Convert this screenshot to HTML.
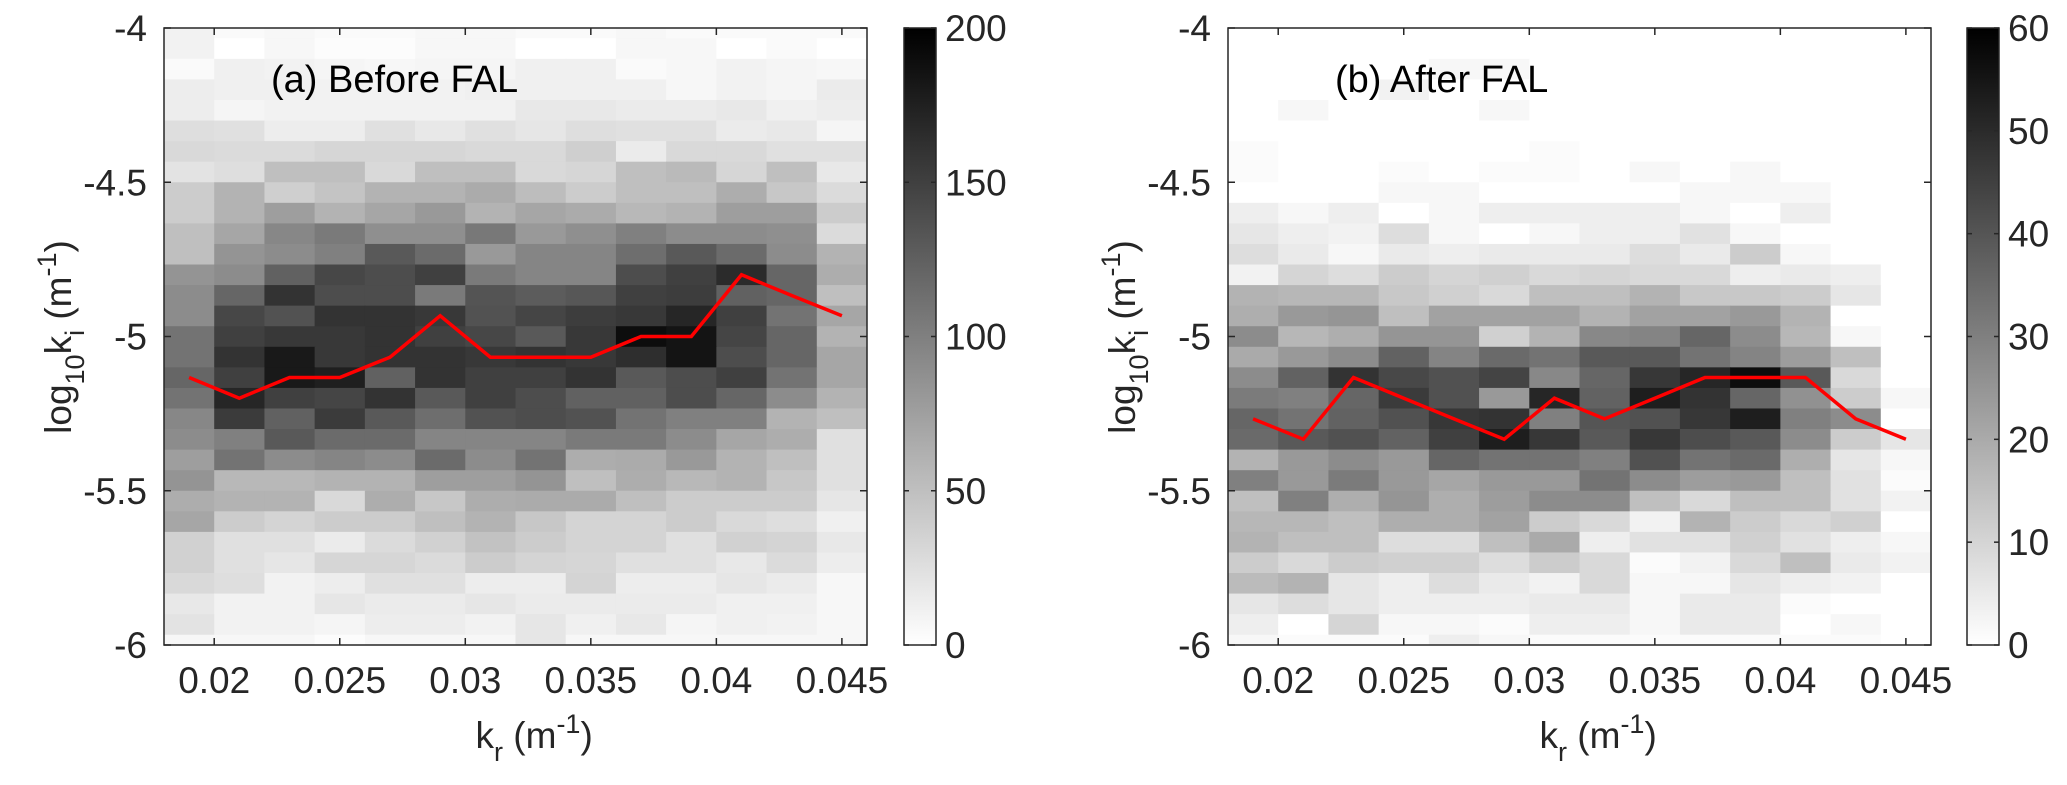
<!DOCTYPE html>
<html><head><meta charset="utf-8"><style>
html,body{margin:0;padding:0;background:#fff}
svg{display:block;font-family:"Liberation Sans",Arial,sans-serif}
</style></head><body>
<svg id="fig" width="2067" height="785" viewBox="0 0 2067 785"></svg>
<script>
// ---------- data ----------
const kr = [0.019,0.021,0.023,0.025,0.027,0.029,0.031,0.033,0.035,0.037,0.039,0.041,0.043,0.045];
const yBins = 31; // rows centred at -4, -4.0667, ... -6
const xTicks = [0.02,0.025,0.03,0.035,0.04,0.045];
const xTickLabels = ["0.02","0.025","0.03","0.035","0.04","0.045"];
const yTicks = [-4,-4.5,-5,-5.5,-6];
const yTickLabels = ["-4","-4.5","-5","-5.5","-6"];
const cbTicksA = [0,50,100,150,200];
const cbTicksB = [0,10,20,30,40,50,60];
const lineA = [-5.133,-5.2,-5.133,-5.133,-5.067,-4.933,-5.067,-5.067,-5.067,-5.0,-5.0,-4.8,-4.867,-4.933];
const lineB = [-5.267,-5.333,-5.133,-5.2,-5.267,-5.333,-5.2,-5.267,-5.2,-5.133,-5.133,-5.133,-5.267,-5.333];
// darkness-based counts, panel (a) (max 200): rows top(-4) to bottom(-6)
const countsA = [
[10,4,6,4,4,6,6,4,4,6,4,4,4,4],
[10,0,6,2,2,6,6,0,0,6,6,0,4,0],
[4,12,10,8,6,8,8,12,12,4,6,10,8,6],
[14,12,12,10,10,10,12,12,12,12,6,10,8,16],
[14,8,10,10,10,10,10,18,18,16,16,18,12,14],
[26,24,14,14,24,18,24,20,26,24,24,16,18,8],
[30,28,28,32,32,32,30,30,38,16,30,30,24,24],
[22,26,50,50,30,50,50,30,32,50,54,32,50,18],
[40,60,38,46,60,60,66,52,40,50,50,64,44,28],
[40,60,76,60,70,80,60,70,66,56,60,76,76,40],
[50,70,94,104,88,88,106,80,88,100,90,90,88,28],
[50,84,90,100,130,116,80,96,96,114,130,116,90,60],
[84,90,124,144,140,150,104,96,96,140,150,166,120,64],
[90,120,160,140,140,104,134,128,132,150,152,124,120,50],
[90,144,136,160,160,156,136,146,152,156,170,150,110,70],
[110,150,156,156,160,150,144,130,156,190,184,146,120,60],
[110,160,180,156,160,160,156,160,156,164,184,140,120,70],
[120,150,180,176,124,160,150,150,160,130,140,150,110,70],
[110,170,150,146,160,130,150,140,124,124,140,120,90,60],
[94,154,124,154,130,114,136,140,136,110,100,100,60,50],
[90,100,130,116,116,96,96,96,104,104,90,70,64,24],
[76,110,90,96,90,116,90,110,64,66,80,60,50,24],
[84,56,56,60,60,76,76,84,50,64,56,60,44,24],
[64,60,60,30,64,44,64,66,66,50,40,40,40,20],
[70,40,34,40,40,50,60,44,34,34,40,30,26,12],
[36,24,24,16,28,36,48,40,34,34,24,36,34,18],
[36,24,20,32,32,28,40,34,32,24,24,18,28,14],
[30,26,10,14,24,24,14,14,34,14,14,20,16,6],
[18,10,10,20,16,16,20,16,16,16,16,12,12,6],
[22,10,10,8,14,14,10,20,12,18,8,12,10,6],
[6,6,6,2,6,6,6,20,6,6,6,6,6,6]
];
// panel (b) (max 60)
const countsB = [
[0,0,0,0,0,0,0,0,0,0,0,0,0,0],
[0,0,0,0,0,0,0,0,0,0,0,0,0,0],
[0,0,0,0,2,2,0,0,0,0,0,0,0,0],
[0,0,0,3,0,0,0,0,0,0,0,0,0,0],
[0,2,0,0,0,2,0,0,0,0,0,0,0,0],
[0,0,0,0,0,0,0,0,0,0,0,0,0,0],
[1,0,0,0,0,0,1,0,0,0,0,0,0,0],
[1,0,0,1,0,1,1,0,2,0,2,0,0,0],
[0,0,0,2,2,0,0,0,0,2,2,2,0,0],
[4,2,4,0,2,4,4,4,4,2,0,4,0,0],
[6,4,3,8,2,0,2,4,4,7,2,0,0,0],
[8,5,2,5,4,5,5,5,8,5,12,2,0,0],
[3,10,8,12,10,11,9,10,9,9,4,5,4,0],
[18,17,17,13,11,9,15,15,18,13,13,12,6,0],
[19,24,25,15,22,22,22,18,22,22,24,18,0,0],
[27,17,19,25,25,11,18,28,29,36,27,17,2,0],
[20,24,27,37,29,35,33,39,39,33,29,23,15,0],
[27,37,48,43,41,44,28,36,47,51,57,39,9,0],
[31,30,36,46,41,24,51,37,53,48,36,26,12,2],
[36,33,37,41,47,48,30,40,41,47,53,30,27,0],
[35,39,41,37,45,53,47,39,47,42,39,27,12,6],
[18,24,27,24,36,33,33,30,41,33,35,19,6,2],
[30,24,31,24,21,24,24,33,27,23,24,15,7,1],
[15,30,19,25,19,23,27,27,15,9,15,15,7,3],
[17,17,15,19,19,22,12,9,3,18,12,9,11,0],
[18,15,15,8,8,15,20,4,7,7,11,7,4,2],
[12,9,12,11,11,8,12,9,1,3,9,15,5,3],
[16,18,6,4,8,5,3,9,2,2,6,4,3,0],
[6,8,6,4,4,4,5,5,2,5,5,1,0,0],
[4,0,10,2,2,1,4,4,2,5,5,0,2,0],
[2,1,1,1,4,2,1,1,1,1,1,1,1,0]
];
// ---------- drawing ----------
const NS="http://www.w3.org/2000/svg";
const svg=document.getElementById('fig');
function mk(tag,attrs,parent){const e=document.createElementNS(NS,tag);for(const k in attrs)e.setAttribute(k,attrs[k]);(parent||svg).appendChild(e);return e;}

function panel(cfg){
  const L=cfg.left, R=cfg.left+703, T=28, B=645;
  const xS=v=>L+(v-0.018)/(0.046-0.018)*(R-L);
  const yS=v=>T+(-4-v)/2*(B-T);
  const g=mk('g',{});
  
  
  const clip=mk('clipPath',{id:'clip'+cfg.id},g);
  mk('rect',{x:L,y:T,width:R-L,height:B-T},clip);
  const hm=mk('g',{'clip-path':'url(#clip'+cfg.id+')'},g);
  
  
  const dx=0.001, dy=1/30;
  cfg.counts.forEach((row,ri)=>{
    const yc=-4-ri/15;
    row.forEach((v,ci)=>{
      const xc=kr[ci];
      const t=Math.min(1,v/cfg.max);
      const gv=Math.round(255*(1-t));
      const x0=xS(xc-dx), x1=xS(xc+dx), y0=yS(yc+dy), y1=yS(yc-dy);
      const r=mk('rect',{x:x0.toFixed(2),y:y0.toFixed(2),width:(x1-x0+0.6).toFixed(2),height:(y1-y0+0.6).toFixed(2),fill:`rgb(${gv},${gv},${gv})`},hm);
      
      
    });
  });
  // red line
  const pts=cfg.line.map((v,i)=>xS(kr[i]).toFixed(1)+','+yS(v).toFixed(1)).join(' ');
  const pl=mk('polyline',{points:pts,fill:'none',stroke:'#ff0000','stroke-width':3.5,'stroke-linejoin':'miter'},g);
  
  
  // box
  const box=mk('rect',{x:L,y:T,width:R-L,height:B-T,fill:'none',stroke:'#262626','stroke-width':1.5},g);
  
  
  xTicks.forEach((v,i)=>{
    const x=xS(v);
    mk('line',{x1:x,y1:B,x2:x,y2:B-7,stroke:'#262626','stroke-width':1.5},g);
    mk('line',{x1:x,y1:T,x2:x,y2:T+7,stroke:'#262626','stroke-width':1.5},g);
    const t=mk('text',{x:x,y:693,'font-size':37,'text-anchor':'middle',fill:'#262626'},g);
    t.textContent=xTickLabels[i];
    
    
  });
  yTicks.forEach((v,i)=>{
    const y=yS(v);
    mk('line',{x1:L,y1:y,x2:L+7,y2:y,stroke:'#262626','stroke-width':1.5},g);
    mk('line',{x1:R,y1:y,x2:R-7,y2:y,stroke:'#262626','stroke-width':1.5},g);
    const t=mk('text',{x:L-17,y:y+13,'font-size':37,'text-anchor':'end',fill:'#262626'},g);
    t.textContent=yTickLabels[i];
    
    
  });
  // x title
  const xt=mk('text',{x:(L+R)/2-40,y:748,'font-size':37,fill:'#262626'},g);
  xt.innerHTML='k<tspan dy="13" font-size="27">r</tspan><tspan dy="-13"> (m</tspan><tspan dy="-15" font-size="27">-1</tspan><tspan dy="15">)</tspan>';
  
  
  // y title
  const yt=mk('text',{x:0,y:0,'font-size':37,fill:'#262626','text-anchor':'middle',transform:`translate(${L-93},337) rotate(-90)`},g);
  yt.innerHTML='log<tspan dy="13" font-size="27">10</tspan><tspan dy="-13">k</tspan><tspan dy="13" font-size="27">i</tspan><tspan dy="-13"> (m</tspan><tspan dy="-15" font-size="27">-1</tspan><tspan dy="15">)</tspan>';
  
  
  // panel title
  const pt=mk('text',{x:L+107,y:92,'font-size':38,fill:'#000'},g);
  pt.textContent=cfg.title;
  
  
  // colorbar
  const cbL=cfg.cbLeft, cbW=32;
  const grad=mk('linearGradient',{id:'grad'+cfg.id,x1:0,y1:1,x2:0,y2:0},g);
  mk('stop',{offset:0,'stop-color':'#fff'},grad);
  mk('stop',{offset:1,'stop-color':'#000'},grad);
  const cb=mk('rect',{x:cbL,y:T,width:cbW,height:B-T,fill:`url(#grad${cfg.id})`,stroke:'#262626','stroke-width':1.5},g);
  
  
  cfg.cbTicks.forEach(v=>{
    const y=B-v/cfg.max*(B-T);
    mk('line',{x1:cbL,y1:y,x2:cbL+5,y2:y,stroke:'#262626','stroke-width':1.5},g);
    mk('line',{x1:cbL+cbW,y1:y,x2:cbL+cbW-5,y2:y,stroke:'#262626','stroke-width':1.5},g);
    const t=mk('text',{x:cbL+cbW+9,y:y+13,'font-size':37,fill:'#262626'},g);
    t.textContent=String(v);
    
    
  });
}
panel({id:'a',name:'panel-a-before-fal',left:164,counts:countsA,max:200,line:lineA,title:'(a) Before FAL',cbLeft:904,cbTicks:cbTicksA});
panel({id:'b',name:'panel-b-after-fal',left:1228,counts:countsB,max:60,line:lineB,title:'(b) After FAL',cbLeft:1967,cbTicks:cbTicksB});
</script>
</body></html>
